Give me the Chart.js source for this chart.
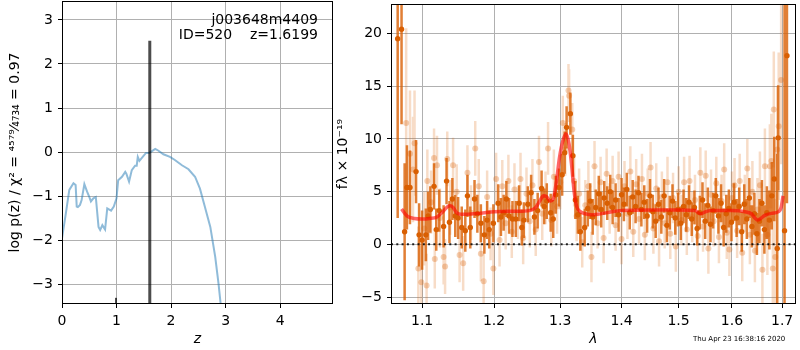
<!DOCTYPE html>
<html>
<head>
<meta charset="utf-8">
<script src="https://cdn.jsdelivr.net/npm/chart.js@4.4.1/dist/chart.umd.min.js"></script>
<style>
  body { margin: 0; background: #fff; width: 800px; height: 350px; position: relative; overflow: hidden; }
  canvas { position: absolute; top: 0; }
  #pz { left: 0; }
  #spec { left: 330px; }
  #stamp { position: absolute; left: 693px; top: 336px; font: 7px "DejaVu Sans"; line-height: 1; color: #000; white-space: nowrap; }
</style>
</head>
<body>
<canvas id="pz" width="336" height="350"></canvas>
<canvas id="spec" width="470" height="350"></canvas>
<div id="stamp">Thu Apr 23 16:38:16 2020</div>
<script>
// object info
const objName = "j003648m4409";
const objId = 520;
const zBest = 1.6199;
const chi2 = 4579;
const dof = 4734;

// left panel: log p(z)
const pzZ = [0, 0.07, 0.134, 0.21, 0.25, 0.27, 0.29, 0.33, 0.36, 0.41, 0.46, 0.50, 0.53, 0.575, 0.62, 0.67, 0.70, 0.74, 0.79, 0.83, 0.90, 0.95, 1.0, 1.03, 1.10, 1.16, 1.18, 1.23, 1.28, 1.34, 1.37, 1.39, 1.42, 1.48, 1.54, 1.60, 1.65, 1.71, 1.77, 1.86, 1.98, 2.07, 2.2, 2.32, 2.44, 2.53, 2.62, 2.72, 2.81, 2.87, 2.91, 3.0];
const pzLog = [-1.96, -1.4, -0.86, -0.71, -0.75, -1.24, -1.25, -1.2, -1.09, -0.73, -0.90, -1.02, -1.12, -1.05, -1.02, -1.70, -1.77, -1.66, -1.76, -1.28, -1.33, -1.24, -1.05, -0.64, -0.56, -0.45, -0.49, -0.67, -0.41, -0.31, -0.31, -0.11, -0.2, -0.11, -0.02, -0.02, 0.02, 0.07, 0.03, -0.05, -0.11, -0.18, -0.30, -0.39, -0.56, -0.83, -1.24, -1.70, -2.38, -2.98, -3.45, -4.3];
const peakZ = [0.99, 1.61];
const peakTop = [-3.31, 2.53];
const pzXTicks = [0, 1, 2, 3, 4];
const pzYTicks = [-3, -2, -1, 0, 1, 2, 3];
const pzXRange = [0, 4.97];
const pzYRange = [-3.45, 3.43];

// right panel: spectrum (dark = first spectrum, light = second)
const darkLam = [1.068, 1.073, 1.077, 1.080, 1.084, 1.092, 1.096, 1.100, 1.105, 1.108, 1.111, 1.116, 1.119, 1.123, 1.129, 1.133, 1.137, 1.141, 1.145, 1.149, 1.154, 1.159, 1.162, 1.166, 1.172, 1.176, 1.181, 1.186, 1.190, 1.193, 1.199, 1.206, 1.210, 1.214, 1.218, 1.222, 1.227, 1.232, 1.237, 1.241, 1.244, 1.250, 1.255, 1.260, 1.265, 1.271, 1.275, 1.279, 1.285, 1.289, 1.293, 1.298, 1.303, 1.307, 1.310, 1.316, 1.320, 1.324, 1.328, 1.332, 1.339, 1.344, 1.348, 1.352, 1.357, 1.362, 1.366, 1.371, 1.376, 1.381, 1.385, 1.390, 1.395, 1.400, 1.404, 1.409, 1.414, 1.419, 1.424, 1.429, 1.434, 1.439, 1.444, 1.449, 1.454, 1.459, 1.464, 1.469, 1.474, 1.479, 1.484, 1.489, 1.494, 1.499, 1.504, 1.509, 1.514, 1.519, 1.524, 1.529, 1.534, 1.539, 1.544, 1.549, 1.554, 1.559, 1.564, 1.569, 1.574, 1.579, 1.584, 1.589, 1.594, 1.599, 1.604, 1.609, 1.614, 1.619, 1.624, 1.629, 1.634, 1.639, 1.644, 1.649, 1.654, 1.659, 1.664, 1.669, 1.674, 1.679, 1.684, 1.690, 1.692, 1.705, 1.710];
const darkFlux = [19.5, 20.4, 1.2, 5.4, 5.4, 6.9, 0.9, 0.4, 0.9, 2.7, 3.3, 5.5, 1.4, 3.2, 1.7, 6.0, 2.1, 4.3, 2.7, 2.5, 1.6, 1.3, 4.6, 1.6, 4.3, 2.9, 2.0, 0.9, 2.3, 1.4, 2.0, 3.9, 2.6, 3.0, 4.3, 2.7, 2.4, 2.4, 3.9, 1.6, 2.3, 3.8, 4.9, 2.6, 3.2, 5.3, 3.6, 4.1, 3.0, 2.4, 4.7, 5.4, 6.6, 8.7, 11.1, 12.4, 8.4, 4.2, 2.8, 1.2, 1.6, 3.4, 4.1, 2.6, 3.5, 4.8, 3.3, 4.4, 3.9, 5.0, 3.5, 4.2, 2.8, 4.7, 3.8, 5.2, 3.0, 4.5, 3.6, 4.9, 3.3, 4.0, 2.7, 4.6, 3.1, 2.2, 3.8, 2.6, 4.6, 1.8, 3.0, 4.1, 2.5, 3.3, 2.0, 3.6, 2.8, 4.0, 2.4, 3.5, 1.5, 3.0, 4.2, 2.2, 3.7, 1.9, 3.2, 4.6, 2.7, 3.9, 1.6, 2.9, 3.4, 2.1, 4.0, 2.5, 3.6, 1.2, 3.8, 2.4, 4.4, 1.7, 2.9, 1.0, 2.2, 3.9, 1.4, 3.0, 2.3, 4.6, 6.2, -0.4, 10.1, 1.3, 17.9];
const darkErr = [17, 9, 6.5, 4, 3.5, 3, 3, 2.8, 2.5, 2.3, 2.2, 2.2, 2, 2, 2, 2.2, 2, 2, 2, 2, 2, 2, 2, 2, 1.8, 1.8, 1.8, 1.8, 1.8, 1.8, 1.8, 1.8, 1.8, 1.7, 1.7, 1.7, 1.7, 1.7, 1.7, 1.7, 1.7, 1.7, 1.7, 1.7, 1.7, 1.7, 1.7, 1.7, 1.8, 1.8, 1.8, 1.8, 2, 2, 2, 2, 2, 1.8, 1.8, 1.8, 1.8, 1.7, 1.7, 1.7, 1.7, 1.7, 1.7, 1.6, 1.6, 1.6, 1.6, 1.6, 1.6, 1.6, 1.6, 1.6, 1.6, 1.6, 1.6, 1.6, 1.6, 1.6, 1.6, 1.6, 1.6, 1.6, 1.6, 1.6, 1.6, 1.6, 1.6, 1.6, 1.6, 1.6, 1.6, 1.6, 1.6, 1.6, 1.6, 1.6, 1.6, 1.6, 1.7, 1.7, 1.7, 1.7, 1.7, 1.7, 1.7, 1.8, 1.8, 1.8, 1.8, 1.8, 1.8, 1.8, 1.8, 1.9, 1.9, 1.9, 1.9, 2, 2, 2, 2.1, 2.2, 2.3, 2.5, 2.8, 3.2, 4, 9, 5, 25, 14];

const lightLam = [1.079, 1.084, 1.088, 1.090, 1.095, 1.099, 1.103, 1.106, 1.107, 1.112, 1.116, 1.117, 1.120, 1.124, 1.129, 1.131, 1.134, 1.138, 1.142, 1.147, 1.151, 1.156, 1.162, 1.167, 1.173, 1.178, 1.181, 1.185, 1.190, 1.195, 1.199, 1.203, 1.208, 1.212, 1.217, 1.221, 1.226, 1.230, 1.235, 1.239, 1.243, 1.248, 1.253, 1.257, 1.262, 1.267, 1.272, 1.277, 1.281, 1.286, 1.290, 1.295, 1.300, 1.304, 1.308, 1.313, 1.314, 1.319, 1.322, 1.326, 1.330, 1.335, 1.340, 1.345, 1.350, 1.355, 1.360, 1.365, 1.370, 1.375, 1.380, 1.385, 1.390, 1.395, 1.400, 1.405, 1.410, 1.415, 1.420, 1.425, 1.430, 1.435, 1.440, 1.445, 1.450, 1.455, 1.460, 1.465, 1.470, 1.475, 1.480, 1.485, 1.490, 1.495, 1.500, 1.505, 1.510, 1.515, 1.520, 1.525, 1.530, 1.535, 1.540, 1.545, 1.550, 1.555, 1.560, 1.565, 1.570, 1.575, 1.580, 1.585, 1.590, 1.595, 1.600, 1.605, 1.610, 1.615, 1.620, 1.625, 1.630, 1.635, 1.640, 1.645, 1.650, 1.655, 1.660, 1.665, 1.670, 1.675, 1.678, 1.681, 1.683, 1.686, 1.690, 1.693, 1.698];
const lightFlux = [11.5, 8.6, 7.1, 9.6, -2.3, -3.6, 1.5, -3.9, 6.0, 4.0, 8.2, -1.4, 7.5, 2.5, -1.2, -2.1, 8.1, 3.5, 7.5, 5.0, -1.0, -1.8, 6.8, 3.0, 9.1, 5.5, -0.9, -3.5, 4.5, 1.0, -2.3, 6.2, 0.4, 5.5, 2.0, 6.0, 1.2, 5.2, 3.0, 6.2, 0.6, 4.8, 2.2, 5.6, 1.4, 7.8, 2.9, 4.4, 9.1, 2.3, 6.4, 3.6, 5.9, 11.5, 9.0, 14.6, 14.1, 10.9, 6.0, 2.7, 4.8, 0.2, 3.7, 5.5, -1.2, 7.4, 2.0, 5.9, 0.6, 6.7, 3.4, 6.0, 1.8, 6.4, 0.5, 5.5, 2.9, 6.9, 1.2, 5.7, 2.4, 6.2, 0.9, 4.8, 7.3, 1.5, 5.3, 0.3, 4.5, 2.0, 5.9, 1.0, 4.4, -0.2, 5.0, 2.3, 5.9, 1.4, 6.0, 2.6, 4.2, 0.8, 6.8, 1.7, 6.5, -0.4, 4.7, 2.2, 5.8, 0.7, 4.1, 7.1, 1.1, -0.5, 4.4, 5.6, 1.3, 6.0, -0.8, 3.9, 7.2, 0.9, 5.0, -0.6, 3.3, 5.6, -2.4, 7.4, 0.9, 7.4, 7.9, -2.3, 12.8, -1.2, 9.0, 11.2, 15.6];
const lightErr = [9, 6, 5, 5, 4, 3.5, 3.5, 3, 3, 3, 2.8, 2.8, 2.8, 2.8, 2.6, 2.6, 2.6, 2.6, 2.6, 2.6, 2.6, 2.6, 2.6, 2.6, 2.6, 2.6, 2.6, 2.6, 2.5, 2.5, 2.5, 2.5, 2.5, 2.5, 2.5, 2.5, 2.5, 2.5, 2.5, 2.5, 2.5, 2.5, 2.5, 2.5, 2.5, 2.5, 2.5, 2.5, 2.5, 2.5, 2.6, 2.6, 2.6, 2.6, 2.5, 2.5, 2.5, 2.5, 2.4, 2.4, 2.4, 2.4, 2.4, 2.4, 2.4, 2.4, 2.4, 2.4, 2.4, 2.4, 2.4, 2.4, 2.4, 2.4, 2.4, 2.4, 2.4, 2.4, 2.4, 2.4, 2.4, 2.4, 2.4, 2.4, 2.4, 2.4, 2.4, 2.4, 2.4, 2.4, 2.4, 2.4, 2.4, 2.4, 2.4, 2.4, 2.4, 2.4, 2.4, 2.4, 2.4, 2.4, 2.4, 2.4, 2.4, 2.4, 2.4, 2.4, 2.5, 2.5, 2.5, 2.5, 2.5, 2.5, 2.5, 2.6, 2.6, 2.6, 2.7, 2.7, 2.8, 2.8, 2.9, 3, 3, 3.2, 3.4, 3.6, 3.8, 4, 4.5, 5, 5.5, 5.5, 6, 7, 8];

// best-fit model
const modelLam = [1.073, 1.08, 1.09, 1.10, 1.11, 1.12, 1.128, 1.134, 1.138, 1.142, 1.147, 1.153, 1.16, 1.18, 1.20, 1.22, 1.24, 1.255, 1.262, 1.268, 1.274, 1.279, 1.284, 1.289, 1.294, 1.299, 1.304, 1.309, 1.314, 1.318, 1.322, 1.326, 1.332, 1.34, 1.35, 1.36, 1.38, 1.40, 1.45, 1.50, 1.53, 1.538, 1.542, 1.548, 1.56, 1.60, 1.625, 1.638, 1.645, 1.650, 1.655, 1.665, 1.68, 1.693, 1.698, 1.702];
const modelFlux = [3.35, 2.7, 2.45, 2.4, 2.45, 2.6, 3.1, 3.55, 3.65, 3.5, 3.0, 2.85, 2.85, 2.95, 3.1, 3.15, 3.15, 3.25, 3.5, 4.1, 4.6, 4.5, 4.1, 4.3, 6.0, 8.3, 9.8, 10.5, 9.5, 7.5, 5.0, 3.6, 3.1, 2.9, 2.8, 2.85, 3.05, 3.2, 3.25, 3.25, 3.2, 2.95, 2.9, 3.05, 3.2, 3.2, 3.1, 2.9, 2.5, 2.3, 2.4, 2.75, 2.95, 3.1, 3.5, 4.6];

const specXTicks = [1.1, 1.2, 1.3, 1.4, 1.5, 1.6, 1.7];
const specYTicks = [-5, 0, 5, 10, 15, 20];
const specXRange = [1.0594, 1.7288];
const specYRange = [-5.66, 22.8];

Chart.defaults.font.family = "DejaVu Sans";
Chart.defaults.color = "#000";

const tickFont = { family: "DejaVu Sans", size: 14 };
const minus = v => String(v).replace("-", "\u2212");
const sup = s => String(s).replace(/\d/g, d => "⁰¹²³⁴⁵⁶⁷⁸⁹"[d]);
const sub = s => String(s).replace(/\d/g, d => "₀₁₂₃₄₅₆₇₈₉"[d]);

function gridStyle() {
  return { color: "#b0b0b0", lineWidth: 1, tickColor: "#000", tickLength: 4 };
}

// fix axis box sizes and drop the label overflow padding chart.js adds
function fixX(h) {
  return s => { s.height = h; s.paddingLeft = 0; s.paddingRight = 0; };
}
function fixY(w) {
  return s => { s.width = w; s.paddingTop = 0; s.paddingBottom = 0; };
}

// black box round the plot area, like matplotlib spines
const framePlugin = {
  id: "frame",
  afterDraw(chart) {
    const { ctx, chartArea: a } = chart;
    ctx.save();
    ctx.strokeStyle = "#000";
    ctx.lineWidth = 1;
    ctx.strokeRect(Math.round(a.left) + 0.5, Math.round(a.top) + 0.5,
      Math.round(a.right - a.left) - 1, Math.round(a.bottom - a.top) - 1);
    ctx.restore();
  }
};

const labelPlugin = {
  id: "objlabel",
  afterDraw(chart) {
    const { ctx, chartArea: a } = chart;
    ctx.save();
    ctx.font = '14px "DejaVu Sans"';
    ctx.fillStyle = "#000";
    ctx.textAlign = "right";
    ctx.textBaseline = "middle";
    ctx.fillText(objName, a.right - 15, 20);
    ctx.fillText("ID=" + objId + "    z=" + zBest.toFixed(4), a.right - 15, 35);
    ctx.restore();
  }
};

// vertical error bars as one broken line
function errorSegments(lam, flux, err) {
  const pts = [];
  lam.forEach((x, i) => {
    pts.push({ x: x, y: flux[i] - err[i] }, { x: x, y: flux[i] + err[i] }, { x: x, y: null });
  });
  return pts;
}

// ---- left chart ----
const pzData = pzZ.map((z, i) => ({ x: z, y: pzLog[i] }));
const peakSets = peakZ.map((z, i) => ({
  type: "line",
  data: [{ x: z, y: pzYRange[0] - 1 }, { x: z, y: peakTop[i] }],
  borderColor: "rgba(0,0,0,0.7)",
  borderWidth: Math.abs(z - zBest) < 0.05 ? 3 : 2,
  pointRadius: 0,
  borderCapStyle: "butt",
  order: 0
}));

new Chart(document.getElementById("pz"), {
  type: "scatter",
  data: {
    datasets: [
      ...peakSets,
      {
        type: "line",
        data: pzData,
        borderColor: "rgba(31,119,180,0.5)",
        borderWidth: 2,
        pointRadius: 0,
        tension: 0,
        order: 1
      }
    ]
  },
  options: {
    responsive: false,
    animation: false,
    events: [],
    layout: { padding: { top: 1, right: 3, left: 0, bottom: 0 } },
    plugins: { legend: { display: false }, tooltip: { enabled: false } },
    scales: {
      x: {
        type: "linear",
        min: pzXRange[0],
        max: pzXRange[1],
        afterBuildTicks: s => { s.ticks = pzXTicks.map(v => ({ value: v })); },
        afterFit: fixX(46),
        grid: gridStyle(),
        border: { display: false },
        ticks: { font: tickFont, color: "#000", padding: 5, maxRotation: 0, autoSkip: false, callback: v => minus(v) },
        title: { display: true, text: "z", font: { family: "DejaVu Sans", size: 14, style: "italic" }, color: "#000", padding: { top: 0, bottom: 2 } }
      },
      y: {
        type: "linear",
        min: pzYRange[0],
        max: pzYRange[1],
        afterBuildTicks: s => { s.ticks = pzYTicks.map(v => ({ value: v })); },
        afterFit: fixY(62),
        grid: gridStyle(),
        border: { display: false },
        ticks: { font: tickFont, color: "#000", padding: 5, autoSkip: false, callback: v => minus(v) },
        title: {
          display: true,
          text: "log p(z) / χ² = " + sup(chi2) + "⁄" + sub(dof) + " = " + (chi2 / dof).toFixed(2),
          font: { family: "DejaVu Sans", size: 14 },
          color: "#000",
          padding: { top: 7, bottom: 0 }
        }
      }
    }
  },
  plugins: [framePlugin, labelPlugin]
});

// ---- right chart ----
const orange = "217,95,2";

new Chart(document.getElementById("spec"), {
  type: "scatter",
  data: {
    datasets: [
      {
        type: "line",
        data: [{ x: specXRange[0], y: 0 }, { x: specXRange[1], y: 0 }],
        borderColor: "rgba(0,0,0,0.85)",
        borderWidth: 2,
        borderDash: [2, 3.3],
        pointRadius: 0,
        order: 0
      },
      {
        type: "line",
        data: modelLam.map((x, i) => ({ x: x, y: modelFlux[i] })),
        borderColor: "rgba(255,0,0,0.6)",
        borderWidth: 3.5,
        pointRadius: 0,
        cubicInterpolationMode: "monotone",
        order: 1
      },
      {
        data: darkLam.map((x, i) => ({ x: x, y: darkFlux[i] })),
        backgroundColor: "rgb(" + orange + ")",
        borderWidth: 0,
        pointRadius: 2.7,
        order: 2
      },
      {
        type: "line",
        data: errorSegments(darkLam, darkFlux, darkErr),
        borderColor: "rgba(" + orange + ",0.8)",
        borderWidth: 2.5,
        borderCapStyle: "butt",
        pointRadius: 0,
        spanGaps: false,
        showLine: true,
        clip: 0,
        order: 3
      },
      {
        data: lightLam.map((x, i) => ({ x: x, y: lightFlux[i] })),
        backgroundColor: "rgba(" + orange + ",0.3)",
        borderWidth: 0,
        pointRadius: 3,
        order: 4
      },
      {
        type: "line",
        data: errorSegments(lightLam, lightFlux, lightErr),
        borderColor: "rgba(" + orange + ",0.22)",
        borderWidth: 2.5,
        borderCapStyle: "butt",
        pointRadius: 0,
        spanGaps: false,
        showLine: true,
        clip: 0,
        order: 5
      }
    ]
  },
  options: {
    responsive: false,
    animation: false,
    events: [],
    layout: { padding: { top: 1, right: 1, left: 0, bottom: 0 } },
    plugins: { legend: { display: false }, tooltip: { enabled: false } },
    scales: {
      x: {
        type: "logarithmic",
        min: specXRange[0],
        max: specXRange[1],
        afterBuildTicks: s => { s.ticks = specXTicks.map(v => ({ value: v })); },
        afterFit: fixX(46),
        grid: gridStyle(),
        border: { display: false },
        ticks: { font: tickFont, color: "#000", padding: 5, maxRotation: 0, autoSkip: false, callback: v => Number(v).toFixed(1) },
        title: { display: true, text: "λ", font: { family: "DejaVu Sans", size: 14, style: "italic" }, color: "#000", padding: { top: 0, bottom: 2 } }
      },
      y: {
        type: "linear",
        min: specYRange[0],
        max: specYRange[1],
        afterBuildTicks: s => { s.ticks = specYTicks.map(v => ({ value: v })); },
        afterFit: fixY(61),
        grid: gridStyle(),
        border: { display: false },
        ticks: { font: tickFont, color: "#000", padding: 5, autoSkip: false, callback: v => minus(v) },
        title: { display: true, text: "fλ × 10⁻¹⁹", font: { family: "DejaVu Sans", size: 14 }, color: "#000", padding: { top: 5, bottom: 0 } }
      }
    }
  },
  plugins: [framePlugin]
});
</script>
</body>
</html>
